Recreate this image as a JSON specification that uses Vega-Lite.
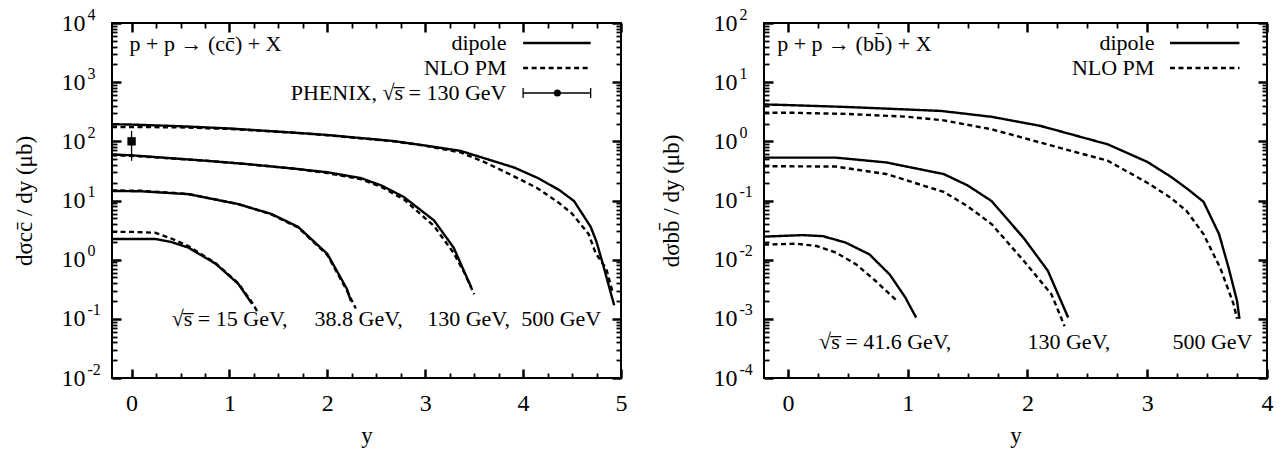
{
  "$schema": "https://vega.github.io/schema/vega-lite/v6.json",
  "background": "white",
  "padding": {"left": 12, "top": 5, "right": 0, "bottom": 0},
  "spacing": 31,
  "config": {
    "font": "Liberation Serif",
    "view": {"stroke": "black", "strokeWidth": 2},
    "axis": {
      "grid": false, "domain": false, "minExtent": 0,
      "labelFont": "Liberation Serif", "titleFont": "Liberation Serif",
      "labelColor": "black", "titleColor": "black", "tickColor": "black", "tickOpacity": 1,
      "labelFontSize": 24, "titleFontSize": 23, "titleFontWeight": "normal",
      "tickWidth": 2.5, "labelFlush": false, "labelOverlap": false
    },
    "text": {"font": "Liberation Serif", "fontSize": 22, "color": "black"}
  },
  "datasets": {
    "cc": [
      {"energy": "500", "model": "dipole", "rapidity": -0.2, "dsigma": 195},
      {"energy": "500", "model": "dipole", "rapidity": 0, "dsigma": 192},
      {"energy": "500", "model": "dipole", "rapidity": 0.5, "dsigma": 180},
      {"energy": "500", "model": "dipole", "rapidity": 1.0, "dsigma": 165},
      {"energy": "500", "model": "dipole", "rapidity": 1.66, "dsigma": 140},
      {"energy": "500", "model": "dipole", "rapidity": 2.0, "dsigma": 128},
      {"energy": "500", "model": "dipole", "rapidity": 2.68, "dsigma": 101},
      {"energy": "500", "model": "dipole", "rapidity": 3.0, "dsigma": 85},
      {"energy": "500", "model": "dipole", "rapidity": 3.36, "dsigma": 69},
      {"energy": "500", "model": "dipole", "rapidity": 3.6, "dsigma": 52},
      {"energy": "500", "model": "dipole", "rapidity": 3.91, "dsigma": 36},
      {"energy": "500", "model": "dipole", "rapidity": 4.15, "dsigma": 24},
      {"energy": "500", "model": "dipole", "rapidity": 4.37, "dsigma": 15},
      {"energy": "500", "model": "dipole", "rapidity": 4.52, "dsigma": 9.8},
      {"energy": "500", "model": "dipole", "rapidity": 4.69, "dsigma": 3.6},
      {"energy": "500", "model": "dipole", "rapidity": 4.75, "dsigma": 2.0},
      {"energy": "500", "model": "dipole", "rapidity": 4.81, "dsigma": 0.9},
      {"energy": "500", "model": "dipole", "rapidity": 4.93, "dsigma": 0.17},
      {"energy": "500", "model": "NLO PM", "rapidity": -0.2, "dsigma": 175},
      {"energy": "500", "model": "NLO PM", "rapidity": 0, "dsigma": 175},
      {"energy": "500", "model": "NLO PM", "rapidity": 0.5, "dsigma": 172},
      {"energy": "500", "model": "NLO PM", "rapidity": 1.0, "dsigma": 162},
      {"energy": "500", "model": "NLO PM", "rapidity": 1.66, "dsigma": 140},
      {"energy": "500", "model": "NLO PM", "rapidity": 2.0, "dsigma": 127},
      {"energy": "500", "model": "NLO PM", "rapidity": 2.68, "dsigma": 100},
      {"energy": "500", "model": "NLO PM", "rapidity": 3.0, "dsigma": 84},
      {"energy": "500", "model": "NLO PM", "rapidity": 3.36, "dsigma": 65},
      {"energy": "500", "model": "NLO PM", "rapidity": 3.6, "dsigma": 45},
      {"energy": "500", "model": "NLO PM", "rapidity": 3.88, "dsigma": 27},
      {"energy": "500", "model": "NLO PM", "rapidity": 4.15, "dsigma": 16},
      {"energy": "500", "model": "NLO PM", "rapidity": 4.37, "dsigma": 9},
      {"energy": "500", "model": "NLO PM", "rapidity": 4.5, "dsigma": 6},
      {"energy": "500", "model": "NLO PM", "rapidity": 4.67, "dsigma": 2.7},
      {"energy": "500", "model": "NLO PM", "rapidity": 4.74, "dsigma": 1.3},
      {"energy": "500", "model": "NLO PM", "rapidity": 4.85, "dsigma": 0.7},
      {"energy": "500", "model": "NLO PM", "rapidity": 4.91, "dsigma": 0.3},
      {"energy": "130", "model": "dipole", "rapidity": -0.2, "dsigma": 60},
      {"energy": "130", "model": "dipole", "rapidity": 0, "dsigma": 58},
      {"energy": "130", "model": "dipole", "rapidity": 0.76, "dsigma": 47},
      {"energy": "130", "model": "dipole", "rapidity": 1.2, "dsigma": 41},
      {"energy": "130", "model": "dipole", "rapidity": 1.7, "dsigma": 34},
      {"energy": "130", "model": "dipole", "rapidity": 2.0, "dsigma": 30},
      {"energy": "130", "model": "dipole", "rapidity": 2.34, "dsigma": 24},
      {"energy": "130", "model": "dipole", "rapidity": 2.55, "dsigma": 18},
      {"energy": "130", "model": "dipole", "rapidity": 2.78, "dsigma": 11.5},
      {"energy": "130", "model": "dipole", "rapidity": 3.09, "dsigma": 4.6},
      {"energy": "130", "model": "dipole", "rapidity": 3.29, "dsigma": 1.6},
      {"energy": "130", "model": "dipole", "rapidity": 3.47, "dsigma": 0.34},
      {"energy": "130", "model": "NLO PM", "rapidity": -0.2, "dsigma": 58},
      {"energy": "130", "model": "NLO PM", "rapidity": 0, "dsigma": 57},
      {"energy": "130", "model": "NLO PM", "rapidity": 0.76, "dsigma": 47},
      {"energy": "130", "model": "NLO PM", "rapidity": 1.2, "dsigma": 41},
      {"energy": "130", "model": "NLO PM", "rapidity": 1.7, "dsigma": 34},
      {"energy": "130", "model": "NLO PM", "rapidity": 2.0, "dsigma": 29},
      {"energy": "130", "model": "NLO PM", "rapidity": 2.34, "dsigma": 23},
      {"energy": "130", "model": "NLO PM", "rapidity": 2.55, "dsigma": 17},
      {"energy": "130", "model": "NLO PM", "rapidity": 2.78, "dsigma": 10.5},
      {"energy": "130", "model": "NLO PM", "rapidity": 3.09, "dsigma": 3.7},
      {"energy": "130", "model": "NLO PM", "rapidity": 3.29, "dsigma": 1.3},
      {"energy": "130", "model": "NLO PM", "rapidity": 3.4, "dsigma": 0.6},
      {"energy": "130", "model": "NLO PM", "rapidity": 3.5, "dsigma": 0.26},
      {"energy": "38.8", "model": "dipole", "rapidity": -0.2, "dsigma": 14.5},
      {"energy": "38.8", "model": "dipole", "rapidity": 0.1, "dsigma": 14.3},
      {"energy": "38.8", "model": "dipole", "rapidity": 0.58, "dsigma": 12.8},
      {"energy": "38.8", "model": "dipole", "rapidity": 1.09, "dsigma": 8.7},
      {"energy": "38.8", "model": "dipole", "rapidity": 1.43, "dsigma": 5.9},
      {"energy": "38.8", "model": "dipole", "rapidity": 1.7, "dsigma": 3.6},
      {"energy": "38.8", "model": "dipole", "rapidity": 2.0, "dsigma": 1.25},
      {"energy": "38.8", "model": "dipole", "rapidity": 2.2, "dsigma": 0.32},
      {"energy": "38.8", "model": "dipole", "rapidity": 2.24, "dsigma": 0.2},
      {"energy": "38.8", "model": "NLO PM", "rapidity": -0.2, "dsigma": 14.8},
      {"energy": "38.8", "model": "NLO PM", "rapidity": 0.1, "dsigma": 14.6},
      {"energy": "38.8", "model": "NLO PM", "rapidity": 0.58, "dsigma": 12.9},
      {"energy": "38.8", "model": "NLO PM", "rapidity": 1.09, "dsigma": 8.7},
      {"energy": "38.8", "model": "NLO PM", "rapidity": 1.43, "dsigma": 5.8},
      {"energy": "38.8", "model": "NLO PM", "rapidity": 1.7, "dsigma": 3.5},
      {"energy": "38.8", "model": "NLO PM", "rapidity": 2.0, "dsigma": 1.2},
      {"energy": "38.8", "model": "NLO PM", "rapidity": 2.2, "dsigma": 0.3},
      {"energy": "38.8", "model": "NLO PM", "rapidity": 2.29, "dsigma": 0.15},
      {"energy": "15", "model": "dipole", "rapidity": -0.2, "dsigma": 2.24},
      {"energy": "15", "model": "dipole", "rapidity": 0.24, "dsigma": 2.24},
      {"energy": "15", "model": "dipole", "rapidity": 0.4, "dsigma": 2.0},
      {"energy": "15", "model": "dipole", "rapidity": 0.58, "dsigma": 1.6},
      {"energy": "15", "model": "dipole", "rapidity": 0.86, "dsigma": 0.85},
      {"energy": "15", "model": "dipole", "rapidity": 1.09, "dsigma": 0.39},
      {"energy": "15", "model": "dipole", "rapidity": 1.23, "dsigma": 0.18},
      {"energy": "15", "model": "NLO PM", "rapidity": -0.2, "dsigma": 2.95},
      {"energy": "15", "model": "NLO PM", "rapidity": 0, "dsigma": 2.95},
      {"energy": "15", "model": "NLO PM", "rapidity": 0.24, "dsigma": 2.85},
      {"energy": "15", "model": "NLO PM", "rapidity": 0.4, "dsigma": 2.3},
      {"energy": "15", "model": "NLO PM", "rapidity": 0.58, "dsigma": 1.7},
      {"energy": "15", "model": "NLO PM", "rapidity": 0.86, "dsigma": 0.87},
      {"energy": "15", "model": "NLO PM", "rapidity": 1.09, "dsigma": 0.4},
      {"energy": "15", "model": "NLO PM", "rapidity": 1.23, "dsigma": 0.19},
      {"energy": "15", "model": "NLO PM", "rapidity": 1.3, "dsigma": 0.12}
    ],
    "bb": [
      {"energy": "500", "model": "dipole", "rapidity": -0.2, "dsigma": 4.2},
      {"energy": "500", "model": "dipole", "rapidity": 0, "dsigma": 4.1},
      {"energy": "500", "model": "dipole", "rapidity": 0.5, "dsigma": 3.8},
      {"energy": "500", "model": "dipole", "rapidity": 1.0, "dsigma": 3.45},
      {"energy": "500", "model": "dipole", "rapidity": 1.28, "dsigma": 3.26},
      {"energy": "500", "model": "dipole", "rapidity": 1.7, "dsigma": 2.6},
      {"energy": "500", "model": "dipole", "rapidity": 2.11, "dsigma": 1.82},
      {"energy": "500", "model": "dipole", "rapidity": 2.67, "dsigma": 0.89},
      {"energy": "500", "model": "dipole", "rapidity": 3.0, "dsigma": 0.45},
      {"energy": "500", "model": "dipole", "rapidity": 3.2, "dsigma": 0.25},
      {"energy": "500", "model": "dipole", "rapidity": 3.33, "dsigma": 0.16},
      {"energy": "500", "model": "dipole", "rapidity": 3.47, "dsigma": 0.095},
      {"energy": "500", "model": "dipole", "rapidity": 3.6, "dsigma": 0.027},
      {"energy": "500", "model": "dipole", "rapidity": 3.68, "dsigma": 0.0072},
      {"energy": "500", "model": "dipole", "rapidity": 3.75, "dsigma": 0.002},
      {"energy": "500", "model": "dipole", "rapidity": 3.77, "dsigma": 0.001},
      {"energy": "500", "model": "NLO PM", "rapidity": -0.2, "dsigma": 3.05},
      {"energy": "500", "model": "NLO PM", "rapidity": 0, "dsigma": 3.05},
      {"energy": "500", "model": "NLO PM", "rapidity": 0.5, "dsigma": 2.9},
      {"energy": "500", "model": "NLO PM", "rapidity": 1.0, "dsigma": 2.6},
      {"energy": "500", "model": "NLO PM", "rapidity": 1.3, "dsigma": 2.26},
      {"energy": "500", "model": "NLO PM", "rapidity": 1.7, "dsigma": 1.6},
      {"energy": "500", "model": "NLO PM", "rapidity": 2.11, "dsigma": 0.95},
      {"energy": "500", "model": "NLO PM", "rapidity": 2.67, "dsigma": 0.47},
      {"energy": "500", "model": "NLO PM", "rapidity": 3.0, "dsigma": 0.2},
      {"energy": "500", "model": "NLO PM", "rapidity": 3.2, "dsigma": 0.11},
      {"energy": "500", "model": "NLO PM", "rapidity": 3.33, "dsigma": 0.066},
      {"energy": "500", "model": "NLO PM", "rapidity": 3.47, "dsigma": 0.027},
      {"energy": "500", "model": "NLO PM", "rapidity": 3.61, "dsigma": 0.0072},
      {"energy": "500", "model": "NLO PM", "rapidity": 3.72, "dsigma": 0.0018},
      {"energy": "500", "model": "NLO PM", "rapidity": 3.75, "dsigma": 0.001},
      {"energy": "130", "model": "dipole", "rapidity": -0.2, "dsigma": 0.53},
      {"energy": "130", "model": "dipole", "rapidity": 0.4, "dsigma": 0.53},
      {"energy": "130", "model": "dipole", "rapidity": 0.82, "dsigma": 0.44},
      {"energy": "130", "model": "dipole", "rapidity": 1.3, "dsigma": 0.28},
      {"energy": "130", "model": "dipole", "rapidity": 1.5, "dsigma": 0.18},
      {"energy": "130", "model": "dipole", "rapidity": 1.7, "dsigma": 0.098},
      {"energy": "130", "model": "dipole", "rapidity": 1.97, "dsigma": 0.023},
      {"energy": "130", "model": "dipole", "rapidity": 2.17, "dsigma": 0.0065},
      {"energy": "130", "model": "dipole", "rapidity": 2.34, "dsigma": 0.00105},
      {"energy": "130", "model": "NLO PM", "rapidity": -0.2, "dsigma": 0.38},
      {"energy": "130", "model": "NLO PM", "rapidity": 0.4, "dsigma": 0.375},
      {"energy": "130", "model": "NLO PM", "rapidity": 0.82, "dsigma": 0.28},
      {"energy": "130", "model": "NLO PM", "rapidity": 1.3, "dsigma": 0.14},
      {"energy": "130", "model": "NLO PM", "rapidity": 1.5, "dsigma": 0.08},
      {"energy": "130", "model": "NLO PM", "rapidity": 1.7, "dsigma": 0.04},
      {"energy": "130", "model": "NLO PM", "rapidity": 1.97, "dsigma": 0.0095},
      {"energy": "130", "model": "NLO PM", "rapidity": 2.2, "dsigma": 0.0026},
      {"energy": "130", "model": "NLO PM", "rapidity": 2.31, "dsigma": 0.00075},
      {"energy": "41.6", "model": "dipole", "rapidity": -0.2, "dsigma": 0.0245},
      {"energy": "41.6", "model": "dipole", "rapidity": 0.12, "dsigma": 0.026},
      {"energy": "41.6", "model": "dipole", "rapidity": 0.29, "dsigma": 0.025},
      {"energy": "41.6", "model": "dipole", "rapidity": 0.48, "dsigma": 0.0195},
      {"energy": "41.6", "model": "dipole", "rapidity": 0.68, "dsigma": 0.0123},
      {"energy": "41.6", "model": "dipole", "rapidity": 0.85, "dsigma": 0.0056},
      {"energy": "41.6", "model": "dipole", "rapidity": 0.98, "dsigma": 0.0023},
      {"energy": "41.6", "model": "dipole", "rapidity": 1.07, "dsigma": 0.00105},
      {"energy": "41.6", "model": "NLO PM", "rapidity": -0.2, "dsigma": 0.018},
      {"energy": "41.6", "model": "NLO PM", "rapidity": 0.07, "dsigma": 0.0186},
      {"energy": "41.6", "model": "NLO PM", "rapidity": 0.24, "dsigma": 0.017},
      {"energy": "41.6", "model": "NLO PM", "rapidity": 0.4, "dsigma": 0.0132},
      {"energy": "41.6", "model": "NLO PM", "rapidity": 0.57, "dsigma": 0.0083},
      {"energy": "41.6", "model": "NLO PM", "rapidity": 0.73, "dsigma": 0.0044},
      {"energy": "41.6", "model": "NLO PM", "rapidity": 0.9, "dsigma": 0.0021}
    ],
    "phenix": [
      {"rapidity": 0, "dsigma": 100, "low": 47, "high": 150}
    ],
    "anchor": [{}]
  },
  "hconcat": [
    {
      "width": 509,
      "height": 355,
      "resolve": {"axis": {"x": "independent", "y": "independent"}},
      "layer": [
        {
          "data": {"name": "cc"},
          "mark": {"type": "line", "color": "black", "strokeWidth": 2.4},
          "encoding": {
            "x": {"field": "rapidity", "type": "quantitative",
              "scale": {"domain": [-0.2, 5], "nice": false, "zero": false},
              "axis": {"orient": "bottom", "values": [0, 1, 2, 3, 4, 5], "ticks": false, "tickSize": 0, "labelPadding": 13, "title": "y", "titlePadding": 10, "minExtent": 36, "maxExtent": 36, "labelAngle": 0}},
            "y": {"field": "dsigma", "type": "quantitative",
              "scale": {"type": "log", "domain": [0.01, 10000], "nice": false},
              "axis": {"orient": "left", "values": [0.01, 0.1, 1, 10, 100, 1000, 10000], "ticks": false, "tickSize": 0, "labelPadding": 27, "minExtent": 62, "maxExtent": 62, "titlePadding": 14,
                "title": "dσcc̄ / dy (μb)", "labelExpr": "'10'"}},
            "detail": {"field": "energy", "type": "nominal"},
            "strokeDash": {"field": "model", "type": "nominal", "scale": {"domain": ["dipole", "NLO PM"], "range": [[1, 0], [5, 3.5]]}, "legend": null}
          }
        },
        {
          "data": {"name": "cc"},
          "mark": {"type": "point", "opacity": 0},
          "encoding": {
            "x": {"field": "rapidity", "type": "quantitative", "scale": {"domain": [-0.2, 5], "nice": false, "zero": false},
              "axis": {"orient": "bottom", "values": [0, 1, 2, 3, 4, 5], "ticks": true, "offset": -9, "tickSize": 9, "labelExpr": "''", "labelFontSize": 1, "labelPadding": 0, "title": null, "titlePadding": 0, "maxExtent": 0}},
            "y": {"field": "dsigma", "type": "quantitative", "scale": {"type": "log", "domain": [0.01, 10000], "nice": false},
              "axis": {"orient": "left", "values": [0.01, 0.1, 1, 10, 100, 1000, 10000], "ticks": false, "tickSize": 0, "labelPadding": 25, "labelAlign": "left", "labelOffset": -9, "labelFontSize": 16, "title": null, "titlePadding": 0, "maxExtent": 0,
                "labelExpr": "'' + round(log(datum.value) / LN10)"}}
          }
        },
        {
          "data": {"name": "cc"},
          "mark": {"type": "point", "opacity": 0},
          "encoding": {
            "x": {"field": "rapidity", "type": "quantitative", "scale": {"domain": [-0.2, 5], "nice": false, "zero": false},
              "axis": {"orient": "top", "values": [0, 1, 2, 3, 4, 5], "ticks": true, "offset": -9, "tickSize": 9, "labelExpr": "''", "labelFontSize": 1, "labelPadding": 0, "title": null, "titlePadding": 0, "maxExtent": 0}},
            "y": {"field": "dsigma", "type": "quantitative", "scale": {"type": "log", "domain": [0.01, 10000], "nice": false},
              "axis": {"orient": "left", "values": [0.01, 0.1, 1, 10, 100, 1000, 10000], "ticks": true, "offset": -9, "tickSize": 9, "labelExpr": "''", "labelFontSize": 1, "labelPadding": 0, "title": null, "titlePadding": 0, "maxExtent": 0}}
          }
        },
        {
          "data": {"name": "cc"},
          "mark": {"type": "point", "opacity": 0},
          "encoding": {
            "x": {"field": "rapidity", "type": "quantitative", "scale": {"domain": [-0.2, 5], "nice": false, "zero": false},
              "axis": {"orient": "bottom", "values": [0.25, 0.5, 0.75, 1.25, 1.5, 1.75, 2.25, 2.5, 2.75, 3.25, 3.5, 3.75, 4.25, 4.5, 4.75], "ticks": true, "offset": -5, "tickSize": 5, "tickWidth": 1.8, "labelExpr": "''", "labelFontSize": 1, "labelPadding": 0, "title": null, "titlePadding": 0, "maxExtent": 0}},
            "y": {"field": "dsigma", "type": "quantitative", "scale": {"type": "log", "domain": [0.01, 10000], "nice": false},
              "axis": {"orient": "right", "values": [0.01, 0.1, 1, 10, 100, 1000, 10000], "ticks": true, "offset": -9, "tickSize": 9, "labelExpr": "''", "labelFontSize": 1, "labelPadding": 0, "title": null, "titlePadding": 0, "maxExtent": 0}}
          }
        },
        {
          "data": {"name": "cc"},
          "mark": {"type": "point", "opacity": 0},
          "encoding": {
            "x": {"field": "rapidity", "type": "quantitative", "scale": {"domain": [-0.2, 5], "nice": false, "zero": false},
              "axis": {"orient": "top", "values": [0.25, 0.5, 0.75, 1.25, 1.5, 1.75, 2.25, 2.5, 2.75, 3.25, 3.5, 3.75, 4.25, 4.5, 4.75], "ticks": true, "offset": -5, "tickSize": 5, "tickWidth": 1.8, "labelExpr": "''", "labelFontSize": 1, "labelPadding": 0, "title": null, "titlePadding": 0, "maxExtent": 0}},
            "y": {"field": "dsigma", "type": "quantitative", "scale": {"type": "log", "domain": [0.01, 10000], "nice": false},
              "axis": {"orient": "left", "values": [0.02, 0.03, 0.04, 0.05, 0.06, 0.07, 0.08, 0.09, 0.2, 0.3, 0.4, 0.5, 0.6, 0.7, 0.8, 0.9, 2, 3, 4, 5, 6, 7, 8, 9, 20, 30, 40, 50, 60, 70, 80, 90, 200, 300, 400, 500, 600, 700, 800, 900, 2000, 3000, 4000, 5000, 6000, 7000, 8000, 9000], "ticks": true, "offset": -5, "tickSize": 5, "tickWidth": 1.8, "labelExpr": "''", "labelFontSize": 1, "labelPadding": 0, "title": null, "titlePadding": 0, "maxExtent": 0}}
          }
        },
        {
          "data": {"name": "cc"},
          "mark": {"type": "point", "opacity": 0},
          "encoding": {
            "x": {"field": "rapidity", "type": "quantitative", "scale": {"domain": [-0.2, 5], "nice": false, "zero": false}, "axis": null},
            "y": {"field": "dsigma", "type": "quantitative", "scale": {"type": "log", "domain": [0.01, 10000], "nice": false},
              "axis": {"orient": "right", "values": [0.02, 0.03, 0.04, 0.05, 0.06, 0.07, 0.08, 0.09, 0.2, 0.3, 0.4, 0.5, 0.6, 0.7, 0.8, 0.9, 2, 3, 4, 5, 6, 7, 8, 9, 20, 30, 40, 50, 60, 70, 80, 90, 200, 300, 400, 500, 600, 700, 800, 900, 2000, 3000, 4000, 5000, 6000, 7000, 8000, 9000], "ticks": true, "offset": -5, "tickSize": 5, "tickWidth": 1.8, "labelExpr": "''", "labelFontSize": 1, "labelPadding": 0, "title": null, "titlePadding": 0, "maxExtent": 0}}
          }
        },
        {
          "data": {"name": "phenix"},
          "mark": {"type": "rule", "color": "black", "strokeWidth": 1.3},
          "encoding": {
            "x": {"field": "rapidity", "type": "quantitative", "axis": null},
            "y": {"field": "low", "type": "quantitative", "axis": null},
            "y2": {"field": "high"}
          }
        },
        {
          "data": {"name": "phenix"},
          "mark": {"type": "square", "color": "black", "filled": true, "opacity": 1, "size": 70},
          "encoding": {
            "x": {"field": "rapidity", "type": "quantitative", "axis": null},
            "y": {"field": "dsigma", "type": "quantitative", "axis": null}
          }
        },
        {
          "data": {"name": "anchor"},
          "mark": {"type": "text", "align": "left", "baseline": "middle", "text": "p + p → (cc̄) + X"},
          "encoding": {"x": {"datum": -0.02, "axis": null}, "y": {"datum": 4400, "axis": null}}
        },
        {
          "data": {"name": "anchor"},
          "mark": {"type": "text", "align": "right", "baseline": "middle", "text": "dipole"},
          "encoding": {"x": {"datum": 3.83, "axis": null}, "y": {"datum": 4590, "axis": null}}
        },
        {
          "data": {"name": "anchor"},
          "mark": {"type": "text", "align": "right", "baseline": "middle", "text": "NLO PM"},
          "encoding": {"x": {"datum": 3.83, "axis": null}, "y": {"datum": 1740, "axis": null}}
        },
        {
          "data": {"name": "anchor"},
          "mark": {"type": "text", "align": "right", "baseline": "middle", "text": "PHENIX, √s̅ = 130 GeV"},
          "encoding": {"x": {"datum": 3.83, "axis": null}, "y": {"datum": 656, "axis": null}}
        },
        {
          "data": {"name": "anchor"},
          "mark": {"type": "rule", "color": "black", "strokeWidth": 2.4},
          "encoding": {"x": {"datum": 4.0, "axis": null}, "x2": {"datum": 4.69}, "y": {"datum": 4590, "axis": null}}
        },
        {
          "data": {"name": "anchor"},
          "mark": {"type": "rule", "color": "black", "strokeWidth": 2.4, "strokeDash": [5, 3.5]},
          "encoding": {"x": {"datum": 4.0, "axis": null}, "x2": {"datum": 4.69}, "y": {"datum": 1740, "axis": null}}
        },
        {
          "data": {"name": "anchor"},
          "mark": {"type": "rule", "color": "black", "strokeWidth": 1.3},
          "encoding": {"x": {"datum": 4.0, "axis": null}, "x2": {"datum": 4.69}, "y": {"datum": 656, "axis": null}}
        },
        {
          "data": {"name": "anchor"},
          "mark": {"type": "tick", "color": "black", "orient": "vertical", "size": 10, "thickness": 1.3, "opacity": 1},
          "encoding": {"x": {"datum": 4.0, "axis": null}, "y": {"datum": 656, "axis": null}}
        },
        {
          "data": {"name": "anchor"},
          "mark": {"type": "tick", "color": "black", "orient": "vertical", "size": 10, "thickness": 1.3, "opacity": 1},
          "encoding": {"x": {"datum": 4.69, "axis": null}, "y": {"datum": 656, "axis": null}}
        },
        {
          "data": {"name": "anchor"},
          "mark": {"type": "circle", "color": "black", "opacity": 1, "size": 50},
          "encoding": {"x": {"datum": 4.35, "axis": null}, "y": {"datum": 656, "axis": null}}
        },
        {
          "data": {"name": "anchor"},
          "mark": {"type": "text", "align": "left", "baseline": "middle", "text": "√s̅ = 15 GeV,"},
          "encoding": {"x": {"datum": 0.41, "axis": null}, "y": {"datum": 0.1, "axis": null}}
        },
        {
          "data": {"name": "anchor"},
          "mark": {"type": "text", "align": "left", "baseline": "middle", "text": "38.8 GeV,"},
          "encoding": {"x": {"datum": 1.87, "axis": null}, "y": {"datum": 0.1, "axis": null}}
        },
        {
          "data": {"name": "anchor"},
          "mark": {"type": "text", "align": "left", "baseline": "middle", "text": "130 GeV,"},
          "encoding": {"x": {"datum": 3.02, "axis": null}, "y": {"datum": 0.1, "axis": null}}
        },
        {
          "data": {"name": "anchor"},
          "mark": {"type": "text", "align": "left", "baseline": "middle", "text": "500 GeV"},
          "encoding": {"x": {"datum": 3.98, "axis": null}, "y": {"datum": 0.1, "axis": null}}
        }
      ]
    },
    {
      "width": 503,
      "height": 355,
      "resolve": {"axis": {"x": "independent", "y": "independent"}},
      "layer": [
        {
          "data": {"name": "bb"},
          "mark": {"type": "line", "color": "black", "strokeWidth": 2.4},
          "encoding": {
            "x": {"field": "rapidity", "type": "quantitative",
              "scale": {"domain": [-0.2, 4], "nice": false, "zero": false},
              "axis": {"orient": "bottom", "values": [0, 1, 2, 3, 4], "ticks": false, "tickSize": 0, "labelPadding": 13, "title": "y", "titlePadding": 10, "minExtent": 36, "maxExtent": 36, "labelAngle": 0}},
            "y": {"field": "dsigma", "type": "quantitative",
              "scale": {"type": "log", "domain": [0.0001, 100], "nice": false},
              "axis": {"orient": "left", "values": [0.0001, 0.001, 0.01, 0.1, 1, 10, 100], "ticks": false, "tickSize": 0, "labelPadding": 27, "minExtent": 62, "maxExtent": 62, "titlePadding": 19,
                "title": "dσbb̄ / dy (μb)", "labelExpr": "'10'"}},
            "detail": {"field": "energy", "type": "nominal"},
            "strokeDash": {"field": "model", "type": "nominal", "scale": {"domain": ["dipole", "NLO PM"], "range": [[1, 0], [5, 3.5]]}, "legend": null}
          }
        },
        {
          "data": {"name": "bb"},
          "mark": {"type": "point", "opacity": 0},
          "encoding": {
            "x": {"field": "rapidity", "type": "quantitative", "scale": {"domain": [-0.2, 4], "nice": false, "zero": false},
              "axis": {"orient": "bottom", "values": [0, 1, 2, 3, 4], "ticks": true, "offset": -9, "tickSize": 9, "labelExpr": "''", "labelFontSize": 1, "labelPadding": 0, "title": null, "titlePadding": 0, "maxExtent": 0}},
            "y": {"field": "dsigma", "type": "quantitative", "scale": {"type": "log", "domain": [0.0001, 100], "nice": false},
              "axis": {"orient": "left", "values": [0.0001, 0.001, 0.01, 0.1, 1, 10, 100], "ticks": false, "tickSize": 0, "labelPadding": 25, "labelAlign": "left", "labelOffset": -9, "labelFontSize": 16, "title": null, "titlePadding": 0, "maxExtent": 0,
                "labelExpr": "'' + round(log(datum.value) / LN10)"}}
          }
        },
        {
          "data": {"name": "bb"},
          "mark": {"type": "point", "opacity": 0},
          "encoding": {
            "x": {"field": "rapidity", "type": "quantitative", "scale": {"domain": [-0.2, 4], "nice": false, "zero": false},
              "axis": {"orient": "top", "values": [0, 1, 2, 3, 4], "ticks": true, "offset": -9, "tickSize": 9, "labelExpr": "''", "labelFontSize": 1, "labelPadding": 0, "title": null, "titlePadding": 0, "maxExtent": 0}},
            "y": {"field": "dsigma", "type": "quantitative", "scale": {"type": "log", "domain": [0.0001, 100], "nice": false},
              "axis": {"orient": "left", "values": [0.0001, 0.001, 0.01, 0.1, 1, 10, 100], "ticks": true, "offset": -9, "tickSize": 9, "labelExpr": "''", "labelFontSize": 1, "labelPadding": 0, "title": null, "titlePadding": 0, "maxExtent": 0}}
          }
        },
        {
          "data": {"name": "bb"},
          "mark": {"type": "point", "opacity": 0},
          "encoding": {
            "x": {"field": "rapidity", "type": "quantitative", "scale": {"domain": [-0.2, 4], "nice": false, "zero": false},
              "axis": {"orient": "bottom", "values": [0.25, 0.5, 0.75, 1.25, 1.5, 1.75, 2.25, 2.5, 2.75, 3.25, 3.5, 3.75], "ticks": true, "offset": -5, "tickSize": 5, "tickWidth": 1.8, "labelExpr": "''", "labelFontSize": 1, "labelPadding": 0, "title": null, "titlePadding": 0, "maxExtent": 0}},
            "y": {"field": "dsigma", "type": "quantitative", "scale": {"type": "log", "domain": [0.0001, 100], "nice": false},
              "axis": {"orient": "right", "values": [0.0001, 0.001, 0.01, 0.1, 1, 10, 100], "ticks": true, "offset": -9, "tickSize": 9, "labelExpr": "''", "labelFontSize": 1, "labelPadding": 0, "title": null, "titlePadding": 0, "maxExtent": 0}}
          }
        },
        {
          "data": {"name": "bb"},
          "mark": {"type": "point", "opacity": 0},
          "encoding": {
            "x": {"field": "rapidity", "type": "quantitative", "scale": {"domain": [-0.2, 4], "nice": false, "zero": false},
              "axis": {"orient": "top", "values": [0.25, 0.5, 0.75, 1.25, 1.5, 1.75, 2.25, 2.5, 2.75, 3.25, 3.5, 3.75], "ticks": true, "offset": -5, "tickSize": 5, "tickWidth": 1.8, "labelExpr": "''", "labelFontSize": 1, "labelPadding": 0, "title": null, "titlePadding": 0, "maxExtent": 0}},
            "y": {"field": "dsigma", "type": "quantitative", "scale": {"type": "log", "domain": [0.0001, 100], "nice": false},
              "axis": {"orient": "left", "values": [0.0002, 0.0003, 0.0004, 0.0005, 0.0006, 0.0007, 0.0008, 0.0009, 0.002, 0.003, 0.004, 0.005, 0.006, 0.007, 0.008, 0.009, 0.02, 0.03, 0.04, 0.05, 0.06, 0.07, 0.08, 0.09, 0.2, 0.3, 0.4, 0.5, 0.6, 0.7, 0.8, 0.9, 2, 3, 4, 5, 6, 7, 8, 9, 20, 30, 40, 50, 60, 70, 80, 90], "ticks": true, "offset": -5, "tickSize": 5, "tickWidth": 1.8, "labelExpr": "''", "labelFontSize": 1, "labelPadding": 0, "title": null, "titlePadding": 0, "maxExtent": 0}}
          }
        },
        {
          "data": {"name": "bb"},
          "mark": {"type": "point", "opacity": 0},
          "encoding": {
            "x": {"field": "rapidity", "type": "quantitative", "scale": {"domain": [-0.2, 4], "nice": false, "zero": false}, "axis": null},
            "y": {"field": "dsigma", "type": "quantitative", "scale": {"type": "log", "domain": [0.0001, 100], "nice": false},
              "axis": {"orient": "right", "values": [0.0002, 0.0003, 0.0004, 0.0005, 0.0006, 0.0007, 0.0008, 0.0009, 0.002, 0.003, 0.004, 0.005, 0.006, 0.007, 0.008, 0.009, 0.02, 0.03, 0.04, 0.05, 0.06, 0.07, 0.08, 0.09, 0.2, 0.3, 0.4, 0.5, 0.6, 0.7, 0.8, 0.9, 2, 3, 4, 5, 6, 7, 8, 9, 20, 30, 40, 50, 60, 70, 80, 90], "ticks": true, "offset": -5, "tickSize": 5, "tickWidth": 1.8, "labelExpr": "''", "labelFontSize": 1, "labelPadding": 0, "title": null, "titlePadding": 0, "maxExtent": 0}}
          }
        },
        {
          "data": {"name": "anchor"},
          "mark": {"type": "text", "align": "left", "baseline": "middle", "text": "p + p → (bb̄) + X"},
          "encoding": {"x": {"datum": -0.09, "axis": null}, "y": {"datum": 44, "axis": null}}
        },
        {
          "data": {"name": "anchor"},
          "mark": {"type": "text", "align": "right", "baseline": "middle", "text": "dipole"},
          "encoding": {"x": {"datum": 3.06, "axis": null}, "y": {"datum": 45.9, "axis": null}}
        },
        {
          "data": {"name": "anchor"},
          "mark": {"type": "text", "align": "right", "baseline": "middle", "text": "NLO PM"},
          "encoding": {"x": {"datum": 3.06, "axis": null}, "y": {"datum": 17.4, "axis": null}}
        },
        {
          "data": {"name": "anchor"},
          "mark": {"type": "rule", "color": "black", "strokeWidth": 2.4},
          "encoding": {"x": {"datum": 3.19, "axis": null}, "x2": {"datum": 3.77}, "y": {"datum": 45.9, "axis": null}}
        },
        {
          "data": {"name": "anchor"},
          "mark": {"type": "rule", "color": "black", "strokeWidth": 2.4, "strokeDash": [5, 3.5]},
          "encoding": {"x": {"datum": 3.19, "axis": null}, "x2": {"datum": 3.77}, "y": {"datum": 17.4, "axis": null}}
        },
        {
          "data": {"name": "anchor"},
          "mark": {"type": "text", "align": "left", "baseline": "middle", "text": "√s̅ = 41.6 GeV,"},
          "encoding": {"x": {"datum": 0.26, "axis": null}, "y": {"datum": 0.00041, "axis": null}}
        },
        {
          "data": {"name": "anchor"},
          "mark": {"type": "text", "align": "left", "baseline": "middle", "text": "130 GeV,"},
          "encoding": {"x": {"datum": 2.0, "axis": null}, "y": {"datum": 0.00041, "axis": null}}
        },
        {
          "data": {"name": "anchor"},
          "mark": {"type": "text", "align": "left", "baseline": "middle", "text": "500 GeV"},
          "encoding": {"x": {"datum": 3.21, "axis": null}, "y": {"datum": 0.00041, "axis": null}}
        }
      ]
    }
  ]
}
